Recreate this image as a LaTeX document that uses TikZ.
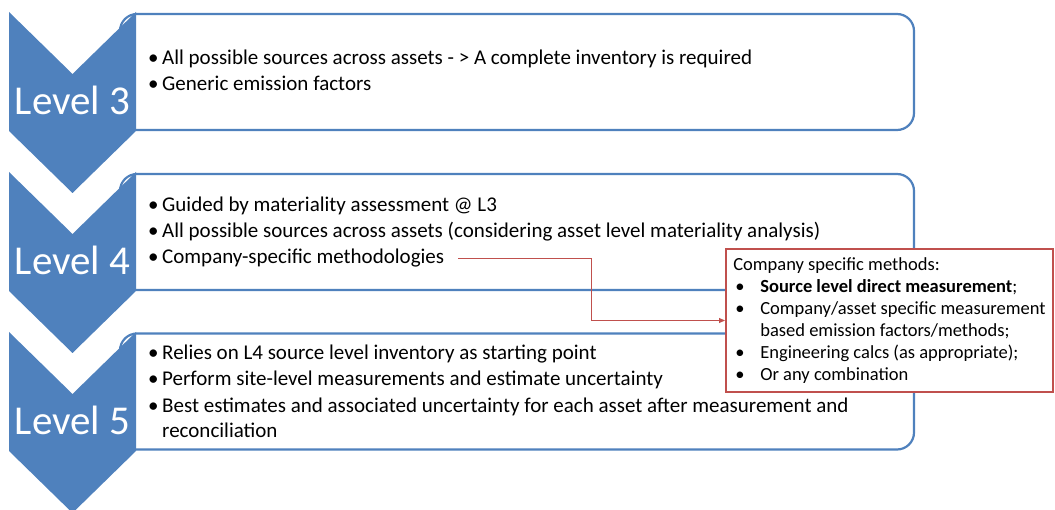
\documentclass[tikz,border=0pt]{standalone}
\usepackage{fontspec}
\setmainfont{Carlito}
\usetikzlibrary{arrows.meta}
\definecolor{levelblue}{HTML}{4F81BD}
\definecolor{calloutred}{HTML}{C0504D}
\newcommand{\itembul}{\makebox[14pt][l]{•}}
\newcommand{\callbul}{\makebox[27pt][l]{\hspace{2pt}•}}

\begin{document}
\begin{tikzpicture}[x=1pt, y=-1pt,
                    stagebox/.style={rectangle, rounded corners=17pt, draw=levelblue, line width=2.2pt,
                                     fill=white, minimum width=794pt, minimum height=116pt},
                    chev/.style={fill=levelblue},
                    levtext/.style={text=white, anchor=base, inner sep=0pt, font=\fontsize{41}{41}\selectfont},
                    item/.style={anchor=base west, inner sep=0pt, align=left, font=\fontsize{21}{25}\selectfont},
                    callout/.style={rectangle, draw=calloutred, line width=2pt, fill=white, align=left,
                                    minimum width=327pt, minimum height=143pt, inner xsep=6pt,
                                    font=\fontsize{18.5}{22}\selectfont},
                    conn/.style={draw=calloutred, line width=0.9pt, -{Triangle[length=6pt,width=5pt]}}]

\useasboundingbox (0,0) rectangle (1055,510);

% Level boxes
\node[stagebox] (box3) at (517,72) {};
\node[stagebox] (box4) at (517,232) {};
\node[stagebox] (box5) at (517,391.5) {};

% Chevrons
\fill[chev] (9,12) -- ++(63.5,62) -- ++(63.5,-62) -- ++(0,119) -- ++(-63.5,62) -- ++(-63.5,-62) -- cycle;
\fill[chev] (9,172) -- ++(63.5,62) -- ++(63.5,-62) -- ++(0,119) -- ++(-63.5,62) -- ++(-63.5,-62) -- cycle;
\fill[chev] (9,332) -- ++(63.5,62) -- ++(63.5,-62) -- ++(0,119) -- ++(-63.5,62) -- ++(-63.5,-62) -- cycle;

\node[levtext] (lev3) at (72.5,115) {Level 3};
\node[levtext] (lev4) at (72.5,275) {Level 4};
\node[levtext] (lev5) at (72.5,435) {Level 5};

% Level 3 items
\node[item] (l3a) at (148,65) {\itembul All possible sources across assets - > A complete inventory is required};
\node[item] (l3b) at (148,91) {\itembul Generic emission factors};

% Level 4 items
\node[item] (l4a) at (148,212) {\itembul Guided by materiality assessment @ L3};
\node[item] (l4b) at (148,238) {\itembul All possible sources across assets (considering asset level materiality analysis)};
\node[item] (l4c) at (148,264) {\itembul Company-specific methodologies};

% Level 5 items (base is the last line here)
\node[item] (l5a) at (148,360) {\itembul Relies on L4 source level inventory as starting point};
\node[item] (l5b) at (148,386) {\itembul Perform site-level measurements and estimate uncertainty};
\node[item] (l5c) at (148,438) {\itembul Best estimates and associated uncertainty for each asset after measurement and\\
                                \hspace*{14pt}reconciliation};

% Callout
\node[callout] (methods) at (889.5,320.5) {Company specific methods:\\
  \callbul\textbf{Source level direct measurement};\\
  \callbul Company/asset specific measurement\\
  \hspace*{27pt}based emission factors/methods;\\
  \callbul Engineering calcs (as appropriate);\\
  \callbul Or any combination};

% Connection
\draw[conn] ([xshift=14pt]l4c.east) -- ++(133,0) |- (methods.west);

\end{tikzpicture}
\end{document}
